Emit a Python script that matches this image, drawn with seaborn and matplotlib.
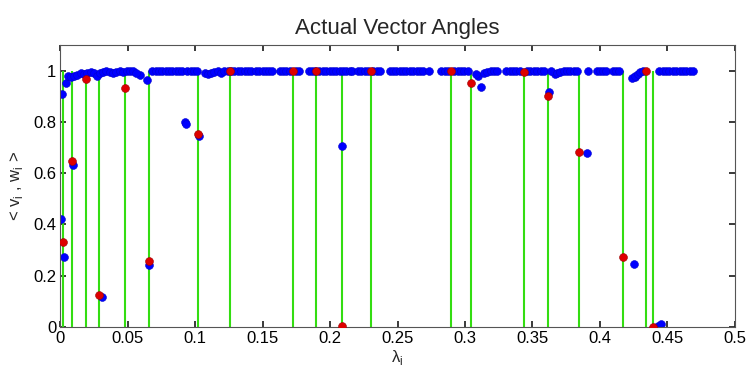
import matplotlib
matplotlib.use("Agg")
import matplotlib.pyplot as plt
import seaborn as sns
import pandas as pd

# green stems / red points (eigenvalue positions and their angle values)
stem_x = [0.0021, 0.0086, 0.0187, 0.0288, 0.0482, 0.0658, 0.1020, 0.1255,
          0.1723, 0.1897, 0.2090, 0.2299, 0.2896, 0.3047, 0.3436, 0.3617,
          0.3848, 0.4170, 0.4344, 0.4396]
red_y = [0.331, 0.646, 0.968, 0.125, 0.930, 0.258, 0.754, 1.000,
         1.000, 0.998, 0.004, 0.998, 0.998, 0.950, 0.995, 0.900,
         0.681, 0.271, 0.998, 0.000]

# blue points
blue_x = [0.0011, 0.0004, 0.0028, 0.0041, 0.0058, 0.0093, 0.0306, 0.0591,
          0.0641, 0.0660, 0.0920, 0.0930, 0.1030, 0.2090, 0.3094, 0.3117,
          0.3625, 0.3664, 0.3902, 0.4251, 0.4258, 0.4433, 0.4450,
          0.0075, 0.0100, 0.0125, 0.0150, 0.0175, 0.0200, 0.0225, 0.0250,
          0.0270, 0.0290, 0.0315, 0.0340, 0.0365, 0.0390, 0.0415, 0.0440,
          0.0465, 0.0490, 0.0515, 0.0540, 0.0560,
          0.0680, 0.0705, 0.0730, 0.0755, 0.0780, 0.0805, 0.0830, 0.0855,
          0.0880, 0.0900,
          0.0940, 0.0965, 0.0990, 0.1015,
          0.1075, 0.1095, 0.1115, 0.1140, 0.1165, 0.1190, 0.1215, 0.1240,
          0.1265, 0.1290, 0.1315, 0.1340, 0.1365, 0.1390, 0.1410,
          0.1450, 0.1475, 0.1500, 0.1525, 0.1550, 0.1570,
          0.1625, 0.1650, 0.1675, 0.1700, 0.1745, 0.1770,
          0.1840, 0.1865, 0.1890, 0.1920, 0.1945, 0.1970, 0.1995, 0.2020,
          0.2045, 0.2070, 0.2095, 0.2120, 0.2145, 0.2165,
          0.2205, 0.2230, 0.2255, 0.2280, 0.2320, 0.2345, 0.2370,
          0.2440, 0.2465, 0.2490, 0.2515, 0.2540, 0.2565, 0.2590, 0.2615,
          0.2640, 0.2665, 0.2685, 0.2735,
          0.2825, 0.2850, 0.2875, 0.2920, 0.2945, 0.2970, 0.2995, 0.3020,
          0.3080, 0.3140, 0.3165, 0.3190, 0.3215, 0.3240,
          0.3305, 0.3330, 0.3355, 0.3380, 0.3405,
          0.3460, 0.3485, 0.3510, 0.3535, 0.3560, 0.3585, 0.3640, 0.3680,
          0.3705, 0.3730, 0.3755, 0.3780, 0.3805, 0.3830,
          0.3912, 0.3975, 0.4000, 0.4025, 0.4048, 0.4100, 0.4120, 0.4145,
          0.4240, 0.4260, 0.4280, 0.4300, 0.4320,
          0.4440, 0.4465, 0.4490, 0.4515, 0.4540, 0.4565, 0.4590, 0.4615,
          0.4640, 0.4665, 0.4690]
blue_y = [0.909, 0.422, 0.272, 0.952, 0.978, 0.632, 0.118, 0.984,
          0.962, 0.240, 0.800, 0.790, 0.746, 0.707, 0.980, 0.935,
          0.915, 0.985, 0.678, 0.247, 0.975, 0.005, 0.010,
          0.975, 0.978, 0.983, 0.990, 0.985, 0.992, 0.996, 0.990,
          0.980, 0.992, 0.996, 0.998, 0.993, 0.990, 0.995, 0.997,
          0.993, 0.998, 1.000, 0.998, 0.992,
          0.998, 1.000, 0.998, 0.999, 1.000, 0.997, 0.999, 1.000,
          0.998, 0.999,
          1.000, 0.999, 1.000, 0.998,
          0.990, 0.985, 0.990, 0.995, 0.998, 0.992, 0.997, 1.000,
          1.000, 0.999, 1.000, 0.998, 1.000, 0.999, 1.000,
          1.000, 0.999, 1.000, 1.000, 0.999, 1.000,
          0.998, 1.000, 0.999, 1.000, 1.000, 0.999,
          1.000, 0.999, 1.000, 0.998, 1.000, 0.999, 1.000, 1.000,
          0.999, 1.000, 1.000, 0.999, 1.000, 1.000,
          1.000, 0.999, 1.000, 1.000, 0.999, 1.000, 0.998,
          1.000, 0.999, 1.000, 1.000, 0.999, 1.000, 1.000, 0.999,
          1.000, 1.000, 0.999, 1.000,
          1.000, 0.999, 1.000, 1.000, 0.999, 1.000, 1.000, 0.998,
          0.985, 0.990, 0.995, 0.998, 1.000, 0.999,
          1.000, 0.999, 1.000, 1.000, 0.999,
          1.000, 0.999, 1.000, 1.000, 0.999, 1.000, 1.000, 0.990,
          0.995, 1.000, 0.999, 1.000, 1.000, 0.999,
          1.000, 1.000, 0.998, 0.999, 1.000, 1.000, 0.999, 1.000,
          0.970, 0.980, 0.988, 0.995, 1.000,
          1.000, 0.999, 1.000, 1.000, 0.999, 1.000, 1.000, 0.999,
          1.000, 1.000, 0.999]

x_ticks = [0, 0.05, 0.1, 0.15, 0.2, 0.25, 0.3, 0.35, 0.4, 0.45, 0.5]
x_tick_labels = ["0", "0.05", "0.1", "0.15", "0.2", "0.25", "0.3", "0.35", "0.4", "0.45", "0.5"]
y_ticks = [0, 0.2, 0.4, 0.6, 0.8, 1]
y_tick_labels = ["0", "0.2", "0.4", "0.6", "0.8", "1"]

sns.set_theme(style="ticks", rc={
    "xtick.direction": "in", "ytick.direction": "in",
    "xtick.top": True, "ytick.right": True,
    "xtick.major.size": 4, "ytick.major.size": 4,
    "axes.edgecolor": "#555555", "axes.linewidth": 0.8,
})
plt.rcParams["font.family"] = ["Liberation Sans", "DejaVu Sans"]
plt.rcParams["mathtext.fontset"] = "custom"
plt.rcParams["mathtext.rm"] = "Liberation Sans"

fig = plt.figure(figsize=(7.46, 3.71), dpi=100)
ax = fig.add_axes([0.081, 0.1186, 0.904, 0.7604])

blue_df = pd.DataFrame({"x": blue_x, "y": blue_y})
red_df = pd.DataFrame({"x": stem_x, "y": red_y})

ax.vlines(stem_x, 0, 1, colors="#33dd11", linewidth=1.5, zorder=1)
sns.scatterplot(data=blue_df, x="x", y="y", ax=ax, color="#0000ff", s=32,
                edgecolor="#0000cc", linewidth=0.4, zorder=2)
sns.scatterplot(data=red_df, x="x", y="y", ax=ax, color="#dd0000", s=32,
                edgecolor="#990000", linewidth=0.4, zorder=3)

ax.set_xlim(0, 0.5)
ax.set_ylim(0, 1.1)
ax.set_xticks(x_ticks)
ax.set_xticklabels(x_tick_labels, fontsize=12)
ax.set_yticks(y_ticks)
ax.set_yticklabels(y_tick_labels, fontsize=12)
ax.tick_params(axis="both", colors="#222222", labelcolor="black", pad=3)

ax.set_xlabel("λ$_\\mathregular{i}$", fontsize=12, labelpad=1)
ax.set_ylabel("< v$_\\mathregular{i}$ , w$_\\mathregular{i}$ >", fontsize=12, labelpad=6)
ax.set_title("Actual Vector Angles", fontsize=16, pad=8)

fig.savefig("out.png", dpi=100)
